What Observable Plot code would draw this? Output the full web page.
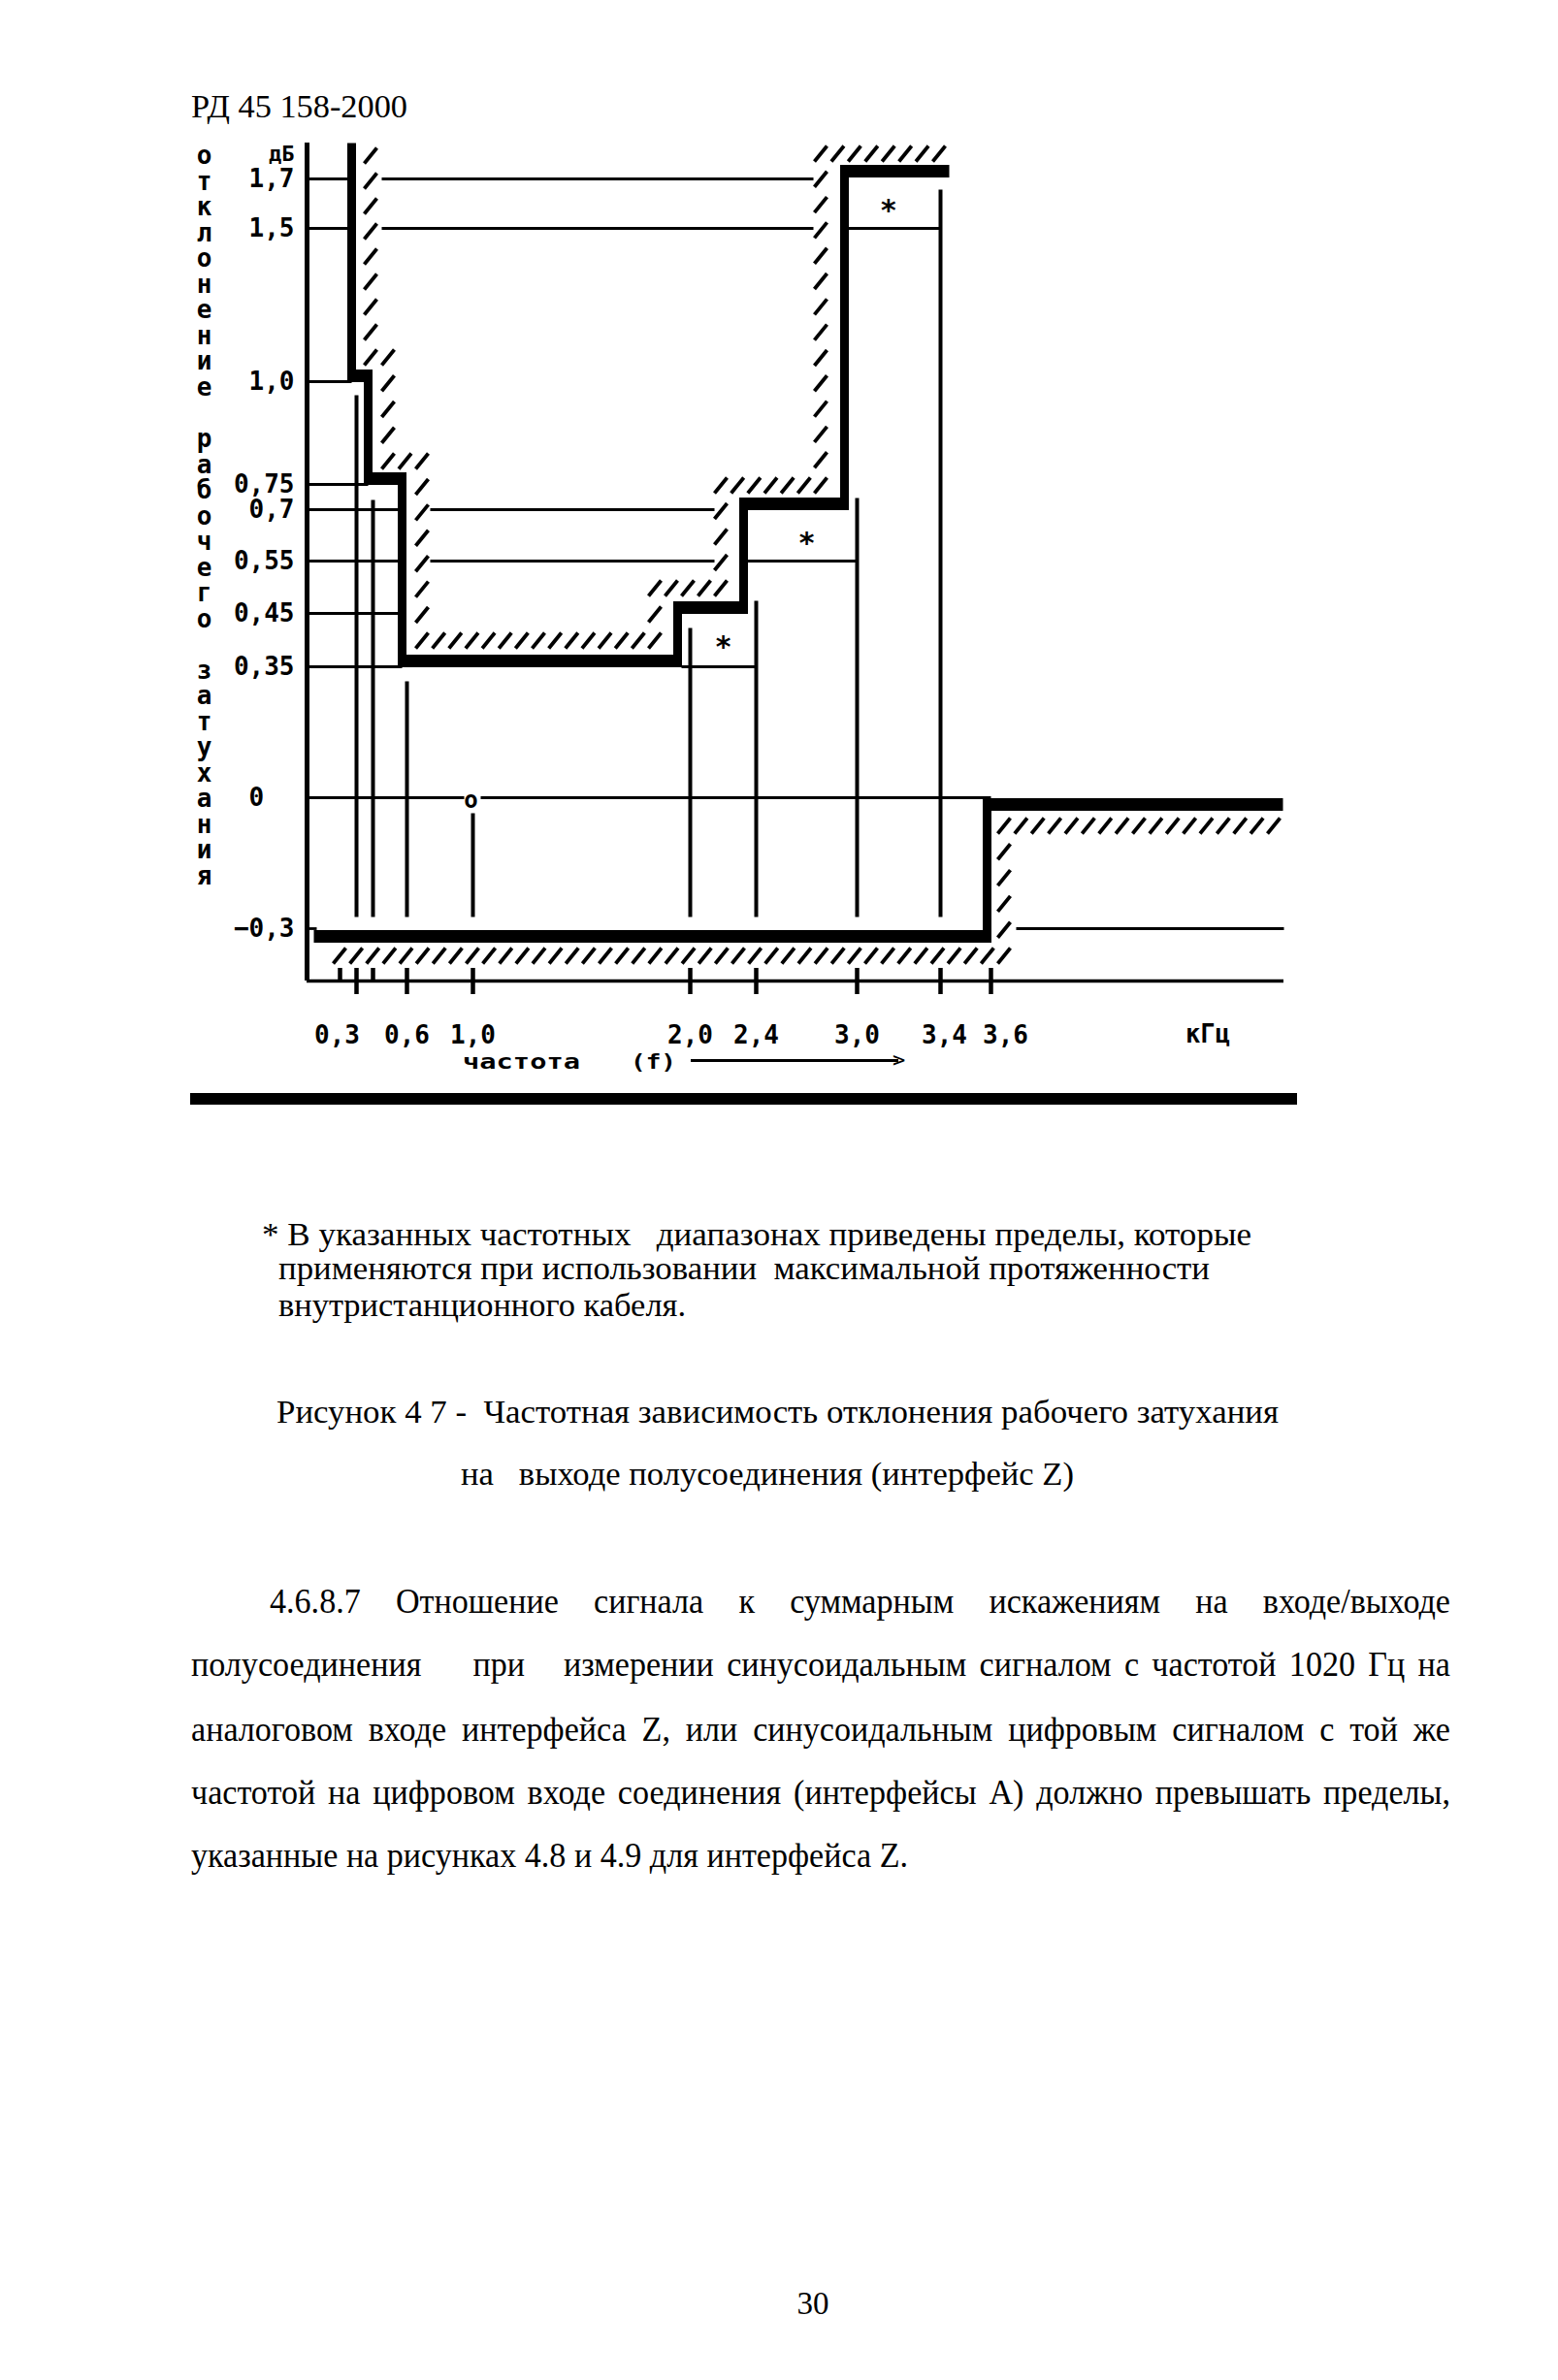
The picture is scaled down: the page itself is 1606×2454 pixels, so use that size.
<!DOCTYPE html>
<html><head><meta charset="utf-8">
<script src="https://cdn.jsdelivr.net/npm/d3@7"></script>
<script src="https://cdn.jsdelivr.net/npm/@observablehq/plot@0.6"></script>
<style>
html,body{margin:0;padding:0;background:#fff;}
body{width:1606px;height:2454px;position:relative;overflow:hidden;}
.ln{position:absolute;white-space:pre;line-height:1;color:#000;transform-origin:0 0;}
.serif{font-family:"Liberation Serif","Times New Roman",serif;}
.mono{font-family:"DejaVu Sans Mono",monospace;font-weight:bold;}
#chart{position:absolute;left:0;top:140px;}
.bar{position:absolute;background:#000;}
</style></head><body>
<div id="chart"></div>
<script>
// ---------------- data ----------------
const FMAX = 5.4, DB_TOP = 1.84, DB_BOTTOM = -0.4;
const freqTicksMajor = [0.3, 0.6, 1.0, 2.0, 2.4, 3.0, 3.4, 3.6];
const freqTicksMinor = [0.2, 0.4];
const freqLabels = ["0,3", "0,6", "1,0", "2,0", "2,4", "3,0", "3,4", "3,6"];
const levelTicks = [1.7, 1.5, 1.0, 0.75, 0.7, 0.55, 0.45, 0.35, 0, -0.3];
const levelLabels = ["1,7", "1,5", "1,0", "0,75", "0,7", "0,55", "0,45", "0,35", "0\u00a0\u00a0", "\u22120,3"];
const unitLabel = "дБ";
// main mask (thick line): upper limit and lower limit
const upperMaskF  = [0.3, 0.3, 0.4, 0.4, 0.6, 0.6, 2.0, 2.0, 2.4, 2.4, 3.0, 3.0, 3.4];
const upperMaskDb = [DB_TOP, 1.0, 1.0, 0.75, 0.75, 0.35, 0.35, 0.45, 0.45, 0.7, 0.7, 1.7, 1.7];
const lowerMaskF  = [0, 3.6, 3.6, FMAX];
const lowerMaskDb = [-0.3, -0.3, 0, 0];
// limits with maximum cable length (*)
const cableF1 = [2.0, 2.4, 3.0];
const cableF2 = [2.4, 3.0, 3.4];
const cableDb = [0.35, 0.55, 1.5];
const cableMarkF  = [2.2, 2.7, 3.15];
const cableMarkDb = [0.4, 0.62, 1.6];
// reference point 1 kHz, 0 dB
const refF = [1.0], refDb = [0];
// vertical guide lines
const guideF     = [0.3, 0.4, 0.6, 1.0, 2.0, 2.4, 3.0, 3.4];
const guideTopDb = [1.0, 0.75, 0.35, 0, 0.45, 0.45, 0.7, 1.7];
// texts
const yLabelText = "отклонение рабочего затухания";
const headerText = "РД 45 158-2000";
const unitText = "кГц";
const xTitleText = "частота";
const xTitleSym = "(f)";
const footnoteLines = [
  "* В указанных частотных   диапазонах приведены пределы, которые",
  "применяются при использовании  максимальной протяженности",
  "внутристанционного кабеля."
];
const captionLines = [
  "Рисунок 4 7 -  Частотная зависимость отклонения рабочего затухания",
  "на   выходе полусоединения (интерфейс Z)"
];
const paragraphLines = [
  "4.6.8.7 Отношение сигнала к суммарным искажениям на входе/выходе",
  "полусоединения    при   измерении синусоидальным сигналом с частотой 1020 Гц на",
  "аналоговом входе интерфейса Z, или синусоидальным цифровым сигналом с той же",
  "частотой на цифровом входе соединения (интерфейсы А) должно превышать пределы,",
  "указанные на рисунках 4.8 и 4.9 для интерфейса Z."
];
const pageNumber = "30";

// ---------------- scales (schematic, piecewise) ----------------
const xScaleOpts = {type: "linear",
  domain: [0, 0.2, 0.3, 0.4, 0.6, 1.0, 2.0, 2.4, 3.0, 3.4, 3.6, FMAX],
  range:  [316, 350, 367, 384, 419, 487, 711, 779, 883, 969, 1021, 1323]};
const yScaleOpts = {type: "linear",
  domain: [DB_BOTTOM, -0.3, 0, 0.35, 0.45, 0.55, 0.7, 0.75, 1.0, 1.5, 1.7, DB_TOP],
  range:  [871, 817, 682, 547, 492, 438, 385, 359, 253, 95, 44, 7]};
let SX, SY;
try { SX = Plot.scale({x: xScaleOpts}); SY = Plot.scale({y: yScaleOpts}); if (!SX.invert) throw 0; }
catch (e) {
  const a = d3.scaleLinear().domain(xScaleOpts.domain).range(xScaleOpts.range);
  const b = d3.scaleLinear().domain(yScaleOpts.domain).range(yScaleOpts.range);
  SX = {apply: a, invert: a.invert}; SY = {apply: b, invert: b.invert};
}
const px = v => SX.apply(v), py = v => SY.apply(v);
const ix = p => SX.invert(p), iy = p => SY.invert(p);
const fo = (f, d) => ix(px(f) + d);   // frequency shifted by d pixels
const lo = (v, d) => iy(py(v) + d);   // level shifted by d pixels (down +)

// ---------------- thick mask segments ----------------
const HW = 13, VW = 9;
function maskSegments(F, D, offX, offY) {
  const n = F.length;
  const P = F.map((f, i) => [px(f) + offX(f, i, n), py(D[i]) + offY(D[i], i, n)]);
  const H = [], V = [];
  for (let i = 0; i < n - 1; i++) {
    let [x1, y1] = P[i], [x2, y2] = P[i + 1];
    if (Math.abs(y1 - y2) < 0.5) {
      const s = Math.sign(x2 - x1);
      if (i > 0) x1 -= s * VW / 2;
      if (i + 1 < n - 1) x2 += s * VW / 2;
      H.push({x1: ix(x1), y1: iy(y1), x2: ix(x2), y2: iy(y2)});
    } else {
      const s = Math.sign(y2 - y1);
      if (i > 0) y1 -= s * HW / 2;
      if (i + 1 < n - 1) y2 += s * HW / 2;
      V.push({x1: ix(x1), y1: iy(y1), x2: ix(x2), y2: iy(y2)});
    }
  }
  return {H, V};
}
const up = maskSegments(upperMaskF, upperMaskDb,
  (f, i, n) => i === n - 1 ? 9 : (f <= 0.6 ? -5 : -13),
  (v, i) => i === 0 ? 0 : (v === 1.7 ? -8 : -6));
const low = maskSegments(lowerMaskF, lowerMaskDb,
  (f, i, n) => i === 0 ? 7 : (i === n - 1 ? -1 : -4),
  (v) => v === -0.3 ? 8 : 7);
const thickH = up.H.concat(low.H), thickV = up.V.concat(low.V);

// ---------------- hatching ----------------
const SL_W = 13, SL_H = 16;
function hatchAlong(corners, stepH, stepV) {
  const pts = [];
  for (let i = 0; i < corners.length - 1; i++) {
    const [x1, y1] = corners[i], [x2, y2] = corners[i + 1];
    const horiz = Math.abs(y2 - y1) < Math.abs(x2 - x1);
    const len = Math.hypot(x2 - x1, y2 - y1);
    const n = Math.max(1, Math.round(len / (horiz ? stepH : stepV)));
    for (let k = (i === 0 ? 0 : 1); k <= n; k++) pts.push([x1 + (x2 - x1) * k / n, y1 + (y2 - y1) * k / n]);
  }
  return pts.map(([x, y]) => ({x1: ix(x), y1: iy(y + SL_H), x2: ix(x + SL_W), y2: iy(y)}));
}
const upperCorners = [
  [px(0.3) + 8, py(DB_TOP) + 5], [px(0.3) + 8, py(1.0) - 33],
  [px(0.4) + 9, py(1.0) - 33], [px(0.4) + 9, py(0.75) - 32],
  [px(0.6) + 9, py(0.75) - 32], [px(0.6) + 9, py(0.35) - 35],
  [px(2.0) - 43, py(0.35) - 35], [px(2.0) - 43, py(0.45) - 34],
  [px(2.4) - 43, py(0.45) - 34], [px(2.4) - 43, py(0.7) - 33],
  [px(3.0) - 44, py(0.7) - 33], [px(3.0) - 44, py(1.7) - 34],
  [px(3.4) - 8, py(1.7) - 34]
];
const lowerCorners = [
  [px(0) + 27, py(-0.3) + 20], [px(3.6) + 7, py(-0.3) + 20],
  [px(3.6) + 7, py(0) + 21], [px(FMAX) - 17, py(0) + 21]
];
const hatch = hatchAlong(upperCorners, 17, 26.5).concat(hatchAlong(lowerCorners, 17, 26.5));

// ---------------- thin lines ----------------
const gridSpec = [
  [1.7, 0, 0, 0.3, -5], [1.7, 0.3, 26, 3.0, -45],
  [1.5, 0, 0, 0.3, -5], [1.5, 0.3, 26, 3.0, -45],
  [1.0, 0, 0, 0.3, -5],
  [0.75, 0, 0, 0.4, -5],
  [0.7, 0, 0, 0.6, -5], [0.7, 0.6, 24, 2.4, -43],
  [0.55, 0, 0, 0.6, -5], [0.55, 0.6, 24, 2.4, -43],
  [0.45, 0, 0, 0.6, -5],
  [0.35, 0, 0, 0.6, -5],
  [0, 0, 0, 1.0, -9], [0, 1.0, 8, 3.6, 0],
  [-0.3, 0, 0, 0, 10], [-0.3, 3.6, 26, FMAX, 0]
];
const grid = gridSpec.map(([v, f1, d1, f2, d2]) => ({y: v, x1: fo(f1, d1), x2: fo(f2, d2)}));
const cableLines = cableF1.map((f, i) => ({y: cableDb[i], x1: fo(f, -9), x2: cableF2[i]}));
const guideTopPx = [14, 16, 15, 16, 15, -13, -12, 11];
const guides = guideF.map((f, i) => ({x: f, y1: lo(guideTopDb[i], guideTopPx[i]), y2: lo(-0.3, -12)}));
const labelShift = {0.3: -20, 3.6: 15, 3.4: 4};

const MONO = "DejaVu Sans Mono";
const yLabel = [...yLabelText].map(c => c === " " ? "\u00a0" : c).join("\n");

const chart = Plot.plot({
  width: 1606, height: 980, margin: 0,
  x: {...xScaleOpts, axis: null},
  y: {...yScaleOpts, axis: null},
  style: {background: "transparent", fontFamily: MONO},
  marks: [
    Plot.link(grid, {x1: "x1", x2: "x2", y1: "y", y2: "y", stroke: "#000", strokeWidth: 2.8}),
    Plot.link(cableLines, {x1: "x1", x2: "x2", y1: "y", y2: "y", stroke: "#000", strokeWidth: 2.8}),
    Plot.link(guides, {x1: "x", x2: "x", y1: "y1", y2: "y2", stroke: "#000", strokeWidth: 4}),
    Plot.ruleX([0], {y1: DB_BOTTOM, y2: DB_TOP, stroke: "#000", strokeWidth: 5}),
    Plot.ruleY([DB_BOTTOM], {x1: 0, x2: FMAX, stroke: "#000", strokeWidth: 3.5}),
    Plot.ruleX(freqTicksMajor, {y1: lo(DB_BOTTOM, -13), y2: lo(DB_BOTTOM, 14), stroke: "#000", strokeWidth: 4.5}),
    Plot.ruleX(freqTicksMinor, {y1: lo(DB_BOTTOM, -13), y2: DB_BOTTOM, stroke: "#000", strokeWidth: 4.5}),
    Plot.link(thickH, {x1: "x1", x2: "x2", y1: "y1", y2: "y2", stroke: "#000", strokeWidth: HW}),
    Plot.link(thickV, {x1: "x1", x2: "x2", y1: "y1", y2: "y2", stroke: "#000", strokeWidth: VW}),
    Plot.link(hatch, {x1: "x1", x2: "x2", y1: "y1", y2: "y2", stroke: "#000", strokeWidth: 3.8}),
    Plot.text(levelTicks, {x: 0, y: d => d, text: (d, i) => levelLabels[i], dx: -13, textAnchor: "end",
      fontFamily: MONO, fontWeight: "bold", fontSize: 26, fill: "#000"}),
    Plot.text([unitLabel], {x: 0, y: DB_TOP, text: d => d, dx: -13, dy: 11, textAnchor: "end",
      fontFamily: MONO, fontWeight: "bold", fontSize: 22, fill: "#000"}),
    Plot.text(freqTicksMajor, {x: d => fo(d, labelShift[d] || 0), y: DB_BOTTOM, dy: 56, text: (d, i) => freqLabels[i],
      fontFamily: MONO, fontWeight: "bold", fontSize: 26, fill: "#000"}),
    Plot.text([yLabel], {frameAnchor: "top-left", dx: 210, dy: 10, lineAnchor: "top", lineHeight: 1.02,
      textAnchor: "middle", text: d => d, fontFamily: MONO, fontWeight: "bold", fontSize: 26, fill: "#000"}),
    Plot.text(refF, {x: d => d, y: (d, i) => refDb[i], text: () => "o", dx: -2, dy: 3,
      fontFamily: MONO, fontWeight: "bold", fontSize: 24, fill: "#000"}),
    Plot.text(cableMarkF, {x: d => d, y: (d, i) => cableMarkDb[i], text: () => "*", dy: 7,
      fontFamily: "DejaVu Sans", fontWeight: "bold", fontSize: 30, fill: "#000"})
  ]
});
document.getElementById("chart").appendChild(chart);

// ---------------- page text ----------------
function addLine(text, o) {
  const el = document.createElement("div");
  el.className = "ln " + (o.cls || "serif");
  el.style.fontSize = o.size + "px";
  if (o.ls) el.style.letterSpacing = o.ls + "px";
  el.textContent = text;
  document.body.appendChild(el);
  const asc = (o.cls === "mono") ? 0.846 : 0.8375;
  el.style.top = (o.baseline - asc * o.size) + "px";
  const w = el.getBoundingClientRect().width;
  let left = o.left;
  if (o.center !== undefined) left = o.center - w / 2;
  el.style.left = left + "px";
  if (o.right !== undefined) {
    const target = o.right - o.left;
    if (o.justify) {
      const nSp = (text.match(/ /g) || []).length;
      const sx = o.sx;
      const ws = (target / sx - w) / Math.max(1, nSp);
      el.style.wordSpacing = ws + "px";
      el.style.transform = `scaleX(${sx})`;
    } else {
      el.style.transform = `scaleX(${target / w})`;
    }
  }
  return w;
}
addLine(headerText, {left: 197, right: 420, baseline: 122, size: 33});
addLine(unitText, {left: 1222, right: 1268, baseline: 1075, size: 26, cls: "mono"});
addLine(xTitleText, {left: 477, right: 598, baseline: 1103, size: 22, cls: "mono"});
addLine(xTitleSym, {left: 650, right: 697, baseline: 1103, size: 22, cls: "mono"});
{
  const a = document.createElement("div"); a.className = "bar";
  Object.assign(a.style, {left: "712px", top: "1092px", width: "214px", height: "2.5px"});
  document.body.appendChild(a);
  const h = document.createElement("div"); h.className = "ln";
  Object.assign(h.style, {fontFamily: "DejaVu Sans Mono", fontSize: "22px", left: "920px", top: (1101 - 0.846 * 22) + "px"});
  h.textContent = ">"; document.body.appendChild(h);
  const r = document.createElement("div"); r.className = "bar";
  Object.assign(r.style, {left: "196px", top: "1127px", width: "1141px", height: "12px"});
  document.body.appendChild(r);
}
const fnBase = [1285, 1320, 1358], fnLeft = [270, 287, 287], fnRight = [1290, 1247, 707];
footnoteLines.forEach((t, i) => addLine(t, {left: fnLeft[i], right: fnRight[i], baseline: fnBase[i], size: 33}));
addLine(captionLines[0], {left: 285, right: 1318, baseline: 1468, size: 33});
addLine(captionLines[1], {left: 475, right: 1107, baseline: 1532, size: 33});
// paragraph: last line natural width sets condensation
const pBase = [1663, 1728, 1795, 1860, 1925];
const pLeft = [278, 197, 197, 197, 197];
const probe = document.createElement("div"); probe.className = "ln serif"; probe.style.fontSize = "36px";
probe.textContent = paragraphLines[4]; document.body.appendChild(probe);
const pw = probe.getBoundingClientRect().width; probe.remove();
const psx = (936 - 197) / pw;
paragraphLines.forEach((t, i) => {
  if (i < 4) addLine(t, {left: pLeft[i], right: 1495, baseline: pBase[i], size: 36, justify: true, sx: psx});
  else addLine(t, {left: pLeft[i], right: 936, baseline: pBase[i], size: 36});
});
addLine(pageNumber, {center: 838, baseline: 2387, size: 33});
</script>
</body></html>
